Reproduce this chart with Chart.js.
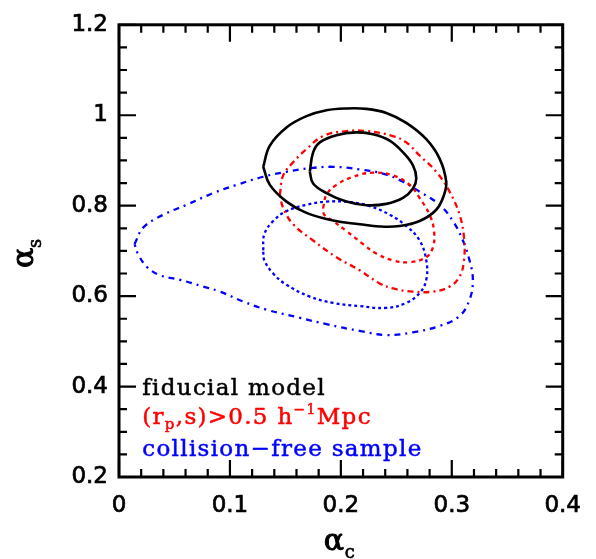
<!DOCTYPE html>
<html>
<head>
<meta charset="utf-8">
<script src="https://cdn.jsdelivr.net/npm/chart.js@4"></script>
<style>
  html, body { margin: 0; padding: 0; background: #fff; }
  #wrap { width: 596px; height: 559px; }
</style>
</head>
<body>
<div id="wrap"><canvas id="myChart" width="596" height="559"></canvas></div>
<script>
// axis ticks
const xTicks = [0, 0.1, 0.2, 0.3, 0.4];
const yTicks = [0.2, 0.4, 0.6, 0.8, 1, 1.2];

// fiducial model (black, solid)
const fidOuterX = [0.130,0.136,0.151,0.169,0.187,0.205,0.223,0.241,0.259,0.277,0.289,0.295,0.293,0.286,0.271,0.253,0.235,0.217,0.193,0.169,0.151,0.136];
const fidOuterY = [0.886,0.933,0.973,0.998,1.011,1.015,1.014,1.005,0.983,0.947,0.904,0.853,0.824,0.791,0.766,0.755,0.754,0.759,0.767,0.784,0.809,0.846];
const fidInnerX = [0.172,0.175,0.181,0.196,0.214,0.229,0.244,0.256,0.265,0.268,0.265,0.256,0.241,0.223,0.205,0.187,0.175];
const fidInnerY = [0.875,0.918,0.940,0.956,0.962,0.958,0.944,0.918,0.889,0.860,0.838,0.817,0.804,0.801,0.809,0.828,0.849];

// (rp,s) > 0.5 h^-1 Mpc (red)
const cutOuterX = [0.145,0.148,0.157,0.169,0.184,0.205,0.223,0.247,0.259,0.271,0.286,0.298,0.307,0.311,0.311,0.307,0.298,0.283,0.265,0.247,0.235,0.217,0.196,0.175,0.157,0.148];
const cutOuterY = [0.824,0.867,0.896,0.925,0.954,0.965,0.965,0.954,0.940,0.911,0.875,0.831,0.780,0.730,0.679,0.643,0.621,0.610,0.610,0.617,0.628,0.657,0.686,0.723,0.759,0.795];
const cutInnerX = [0.184,0.187,0.196,0.211,0.229,0.247,0.262,0.271,0.280,0.284,0.283,0.277,0.262,0.247,0.232,0.220,0.205,0.193,0.185];
const cutInnerY = [0.795,0.824,0.846,0.864,0.873,0.867,0.846,0.817,0.780,0.744,0.708,0.686,0.675,0.679,0.694,0.715,0.744,0.766,0.780];

// collision-free sample (blue)
const cfOuterX = [0.014,0.022,0.040,0.061,0.085,0.106,0.130,0.151,0.169,0.193,0.217,0.238,0.256,0.271,0.289,0.301,0.310,0.316,0.319,0.316,0.307,0.289,0.265,0.241,0.217,0.187,0.163,0.133,0.112,0.091,0.076,0.055,0.037,0.025,0.017];
const cfOuterY = [0.715,0.752,0.780,0.802,0.828,0.846,0.864,0.875,0.882,0.886,0.880,0.871,0.853,0.831,0.802,0.766,0.723,0.679,0.636,0.592,0.556,0.534,0.520,0.514,0.523,0.538,0.552,0.570,0.588,0.610,0.621,0.636,0.646,0.665,0.694];
const cfInnerX = [0.130,0.131,0.139,0.151,0.169,0.187,0.208,0.226,0.244,0.259,0.271,0.277,0.277,0.271,0.259,0.241,0.217,0.193,0.172,0.151,0.139,0.131];
const cfInnerY = [0.701,0.737,0.766,0.788,0.802,0.809,0.808,0.799,0.780,0.755,0.723,0.679,0.636,0.607,0.585,0.574,0.578,0.585,0.599,0.625,0.650,0.679];

const FONT = '"DejaVu Serif", serif';
const TICKFONT = '"DejaVu Sans", sans-serif';

// close the loop by repeating the first point
function loop(xs, ys) {
  const pts = xs.map((x, i) => ({ x: x, y: ys[i] }));
  pts.push(pts[0]);
  return pts;
}

function contour(xs, ys, color, dash, width) {
  return {
    data: loop(xs, ys),
    showLine: true,
    borderColor: color,
    borderWidth: width,
    borderDash: dash,
    pointRadius: 0,
    tension: 0.4,
    fill: false
  };
}

// inward ticks on all four sides + frame
const framePlugin = {
  id: 'frame',
  afterDatasetsDraw(chart) {
    const { ctx, chartArea: a, scales } = chart;
    ctx.save();
    ctx.strokeStyle = '#000';
    ctx.lineWidth = 2.2;
    for (let i = 0; i <= 20; i++) {
      const v = i * 0.02;
      const px = scales.x.getPixelForValue(v);
      const len = i % 5 === 0 ? 17 : 8;
      ctx.beginPath();
      ctx.moveTo(px, a.bottom); ctx.lineTo(px, a.bottom - len);
      ctx.moveTo(px, a.top); ctx.lineTo(px, a.top + len);
      ctx.stroke();
    }
    for (let i = 0; i <= 20; i++) {
      const v = 0.2 + i * 0.05;
      const py = scales.y.getPixelForValue(v);
      const len = i % 4 === 0 ? 17 : 8;
      ctx.beginPath();
      ctx.moveTo(a.left, py); ctx.lineTo(a.left + len, py);
      ctx.moveTo(a.right, py); ctx.lineTo(a.right - len, py);
      ctx.stroke();
    }
    ctx.lineWidth = 3;
    ctx.strokeRect(a.left, a.top, a.right - a.left, a.bottom - a.top);
    ctx.restore();
  }
};

// text drawn with a thin outline to get a medium weight
function heavyText(ctx, t, x, y, w) {
  ctx.lineWidth = w;
  ctx.strokeStyle = ctx.fillStyle;
  ctx.lineJoin = 'round';
  ctx.strokeText(t, x, y);
  ctx.fillText(t, x, y);
}

// text legend and axis titles
const labelPlugin = {
  id: 'labels',
  afterDraw(chart) {
    const { ctx, chartArea: a, scales } = chart;
    const x0 = scales.x.getPixelForValue(0.021);
    ctx.save();
    ctx.textBaseline = 'alphabetic';
    ctx.textAlign = 'left';
    ctx.letterSpacing = '1.3px';

    ctx.font = '23px ' + FONT;
    ctx.fillStyle = '#000';
    heavyText(ctx, 'fiducial model', x0, scales.y.getPixelForValue(0.4) + 8, 0.5);

    ctx.fillStyle = '#ff0000';
    let x = x0;
    const yb = scales.y.getPixelForValue(0.335) + 8;
    const seg = (t, size, dy) => {
      ctx.font = size + 'px ' + FONT;
      heavyText(ctx, t, x, yb + dy, 0.5);
      x += ctx.measureText(t).width;
    };
    seg('(r', 23, 0);
    seg('p', 15, 5);
    seg(',s)>0.5 h', 23, 0);
    seg('\u22121', 14, -10);
    seg('Mpc', 23, 0);

    ctx.font = '23px ' + FONT;
    ctx.fillStyle = '#0000ff';
    heavyText(ctx, 'collision\u2212free sample', x0, scales.y.getPixelForValue(0.265) + 8, 0.5);

    ctx.letterSpacing = '0px';
    // x title
    ctx.fillStyle = '#000';
    const cx = (a.left + a.right) / 2;
    ctx.font = '30px ' + FONT;
    heavyText(ctx, '\u03b1', cx - 17, 550, 1);
    ctx.font = '18px ' + FONT;
    heavyText(ctx, 'c', cx + 4, 558, 0.6);

    // y title, rotated
    const cy = (a.top + a.bottom) / 2;
    ctx.translate(33, cy + 17);
    ctx.rotate(-Math.PI / 2);
    ctx.font = '30px ' + FONT;
    heavyText(ctx, '\u03b1', 0, 0, 1);
    ctx.font = '18px ' + FONT;
    heavyText(ctx, 's', 20, 8, 0.6);
    ctx.restore();
  }
};

const tickOpts = {
  color: '#000',
  textStrokeColor: '#000',
  textStrokeWidth: 0.7,
  font: { family: TICKFONT, size: 23 },
  callback: v => String(v)
};

const config = {
  type: 'scatter',
  data: {
    datasets: [
      contour(fidOuterX, fidOuterY, '#000000', [], 2.6),
      contour(fidInnerX, fidInnerY, '#000000', [], 2.6),
      contour(cutOuterX, cutOuterY, '#ff0000', [6, 4, 2, 4], 2.3),
      contour(cutInnerX, cutInnerY, '#ff0000', [4, 4], 2.3),
      contour(cfOuterX, cfOuterY, '#0000ff', [6, 5, 2, 5], 2.3),
      contour(cfInnerX, cfInnerY, '#0000ff', [3, 3], 2.3)
    ]
  },
  options: {
    responsive: false,
    animation: false,
    layout: { padding: { left: 0, top: 17, right: 32, bottom: 0 } },
    plugins: {
      legend: { display: false },
      tooltip: { enabled: false }
    },
    scales: {
      x: {
        type: 'linear',
        min: 0,
        max: 0.4,
        afterFit(scale) { scale.height = 82; },
        afterBuildTicks(scale) { scale.ticks = xTicks.map(v => ({ value: v })); },
        grid: { display: false, drawTicks: false },
        border: { display: false },
        ticks: Object.assign({ padding: 15, maxRotation: 0 }, tickOpts)
      },
      y: {
        type: 'linear',
        min: 0.2,
        max: 1.2,
        afterFit(scale) { scale.width = 119; },
        afterBuildTicks(scale) { scale.ticks = yTicks.map(v => ({ value: v })); },
        grid: { display: false, drawTicks: false },
        border: { display: false },
        ticks: Object.assign({ padding: 11 }, tickOpts)
      }
    }
  },
  plugins: [framePlugin, labelPlugin]
};

const myChart = new Chart(document.getElementById('myChart'), config);
</script>
</body>
</html>
